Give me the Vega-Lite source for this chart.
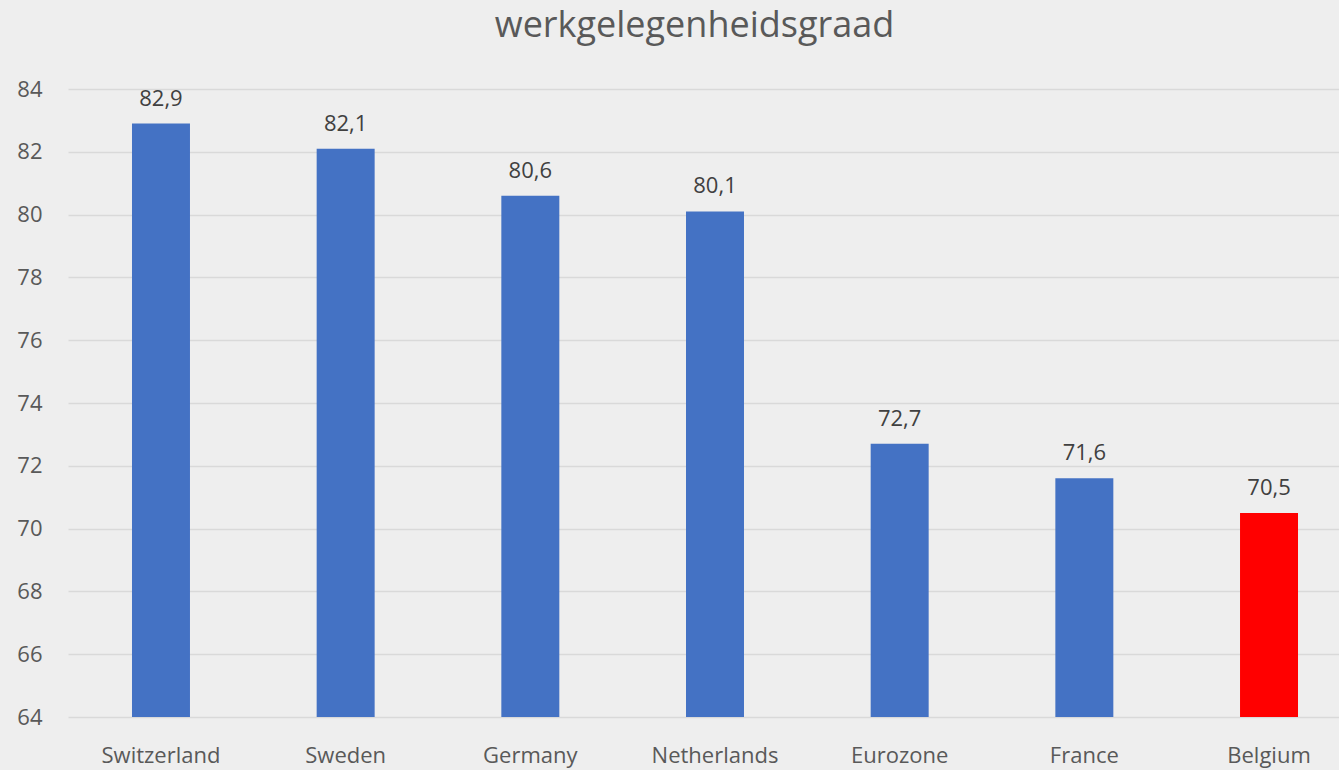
{
  "$schema": "https://vega.github.io/schema/vega-lite/v6.json",
  "autosize": "none",
  "width": 1271,
  "height": 628,
  "padding": {"left": 68, "top": 89, "right": 0, "bottom": 53},
  "background": "#eeeeee",
  "title": {
    "text": "werkgelegenheidsgraad",
    "frame": "group",
    "anchor": "middle",
    "dx": -9,
    "baseline": "alphabetic",
    "offset": 5,
    "font": "Open Sans",
    "fontSize": 36,
    "fontWeight": "normal",
    "color": "#595959"
  },
  "config": {
    "view": {"stroke": null},
    "locale": {
      "number": {"decimal": ",", "thousands": ".", "grouping": [3], "currency": ["€", ""]}
    }
  },
  "data": {
    "values": [
      {"country": "Switzerland", "rate": 82.9},
      {"country": "Sweden", "rate": 82.1},
      {"country": "Germany", "rate": 80.6},
      {"country": "Netherlands", "rate": 80.1},
      {"country": "Eurozone", "rate": 72.7},
      {"country": "France", "rate": 71.6},
      {"country": "Belgium", "rate": 70.5}
    ]
  },
  "encoding": {
    "x": {
      "field": "country",
      "type": "nominal",
      "sort": null,
      "scale": {"range": [0, 1294], "paddingInner": 0.686, "paddingOuter": 0.3465},
      "axis": {
        "title": null,
        "labelAngle": 0,
        "domain": false,
        "ticks": false,
        "labelBaseline": "alphabetic",
        "labelPadding": 45,
        "labelFont": "Open Sans",
        "labelFontSize": 22,
        "labelColor": "#595959"
      }
    },
    "y": {
      "field": "rate",
      "type": "quantitative",
      "scale": {"domain": [64, 84], "zero": false},
      "axis": {
        "title": null,
        "values": [64, 66, 68, 70, 72, 74, 76, 78, 80, 82, 84],
        "format": "d",
        "domain": false,
        "ticks": false,
        "labelPadding": 26,
        "labelFont": "Open Sans",
        "labelFontSize": 22,
        "labelColor": "#595959",
        "gridColor": "#d9d9d9",
        "gridWidth": 1.5
      }
    }
  },
  "layer": [
    {
      "mark": {"type": "bar", "clip": true},
      "encoding": {
        "color": {
          "condition": {"test": "datum.country === 'Belgium'", "value": "#ff0000"},
          "value": "#4472c4"
        }
      }
    },
    {
      "mark": {"type": "text", "baseline": "alphabetic", "dy": -18, "font": "Open Sans", "fontSize": 22, "color": "#404040"},
      "encoding": {
        "text": {"field": "rate", "type": "quantitative", "format": ".1f"}
      }
    }
  ]
}
